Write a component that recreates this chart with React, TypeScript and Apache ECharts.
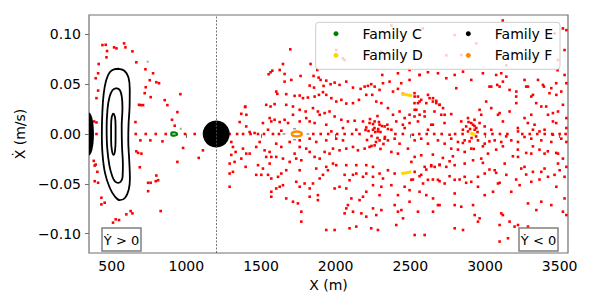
import React, { useEffect, useRef } from "react";
import * as echarts from "echarts";

// ---- axes ----
const xTicks = [500, 1000, 1500, 2000, 2500, 3000, 3500];
const yTicks = [-0.1, -0.05, 0, 0.05, 0.1];
const xRange = [348, 3556];
const yRange = [-0.1195, 0.1195];
const separatorX = 1200;

// ---- red chaotic crossings (X m, Xdot m/s) ----
const chaosLeft: number[][] = [
  [438,.0893],[460,.0896],[516,.087],[532,.086],[583,.091],[592,.087],[639,.083],[469,.0833],[465,.077],[413,.0703],
  [409,.061],[393,.056],[409,.0436],[398,.036],[382,.0126],[398,.0116],[398,0],[665,.072],[726,.065],[777,.061],
  [755,.054],[799,.052],[817,.051],[728,.047],[721,.041],[761,.037],[855,.034],[873,.029],[960,.040],[683,.0293],
  [694,.029],[710,.029],[940,.022],[904,.0143],[922,.0083],[659,.012],[661,0],[728,0],[795,0],[862,0],[991,0],[1056,0],
  [692,-.0064],[759,-.0064],[840,-.0074],[665,-.0174],[677,-.019],[699,-.0197],[978,-.014],[1083,-.024],[940,-.028],
  [688,-.0334],[799,-.0417],[811,-.0464],[795,-.0474],[744,-.049],[761,-.049],[744,-.0574],[828,-.0774],[627,-.0774],
  [639,-.0797],[598,-.0807],[549,-.0864],[509,-.089],[380,-.027],[393,-.0307],[386,-.0317],[404,-.038],[386,-.0474],
  [409,-.049],[431,-.064],[453,-.069],[431,-.0707],[527,-.0857],[1111,-.0164]
];
const chaosUpper: number[][] = [
  [1696,.085],[1832,.0703],[1877,.0643],[1765,.0583],[1658,.0603],[1647,.0703],[1625,.0643],[1551,.060],[1564,.062],[1576,.0636],
  [1658,.0526],[1703,.0543],[1852,.0583],[1886,.0566],[1899,.0543],[1937,.0536],[1826,.0486],[1855,.0466],[1919,.0483],[1966,.050],
  [1993,.0516],[2026,.0493],[2071,.0526],[2116,.0466],[2167,.0453],[2194,.0476],[2216,.0483],[2238,.050],[2261,.0476],[2294,.0443],
  [2317,.051],[2312,.0593],[1602,.0426],[1609,.0403],[1669,.040],[1725,.0383],[1759,.0386],[1781,.036],[1814,.0366],[1859,.0376],
  [1888,.0393],[1915,.042],[1937,.0393],[1971,.036],[2004,.0326],[2038,.0343],[2071,.0306],[2116,.031],[2156,.0343],[2205,.0393],
  [2245,.0393],[2272,.0326],[2306,.031],[1535,.0293],[1564,.0276],[1591,.030],[1669,.0293],[1714,.0276],[1759,.0243],[1799,.0226],
  [1848,.026],[1881,.0226],[1926,.021],[1959,.0226],[1993,.0176],[2038,.0143],[2082,.0126],[2127,.0133],[2183,.0126],[2227,.011],
  [2261,.0126],[2294,.0093],[2328,.0076],[1395,.0276],[1368,.0203],[1357,.012],[1401,.0076],[1513,.011],[1558,.016],[1569,.0126],
  [1591,.0143],[1625,.012],[1658,.0143],[1681,.011],[1714,.0193],[1759,.0126],[1803,.016],[1826,.0126],[1859,.011],[1893,.0193],
  [1937,.0093],[1971,.0026],[2049,.006],[2138,.0043],[2205,.0066],[2250,.0043],[2283,.0026],[1424,.002],[1457,.001],[1547,.0043],
  [1636,.0033],[1402,.0193],[1393,.027],
  [2417,.061],[2495,.0643],[2562,.0593],[2618,.062],[2685,.061],[2741,.056],[2797,.0593],[2808,.046],[2853,.0626],[2908,.0543],
  [2986,.061],[3042,.0476],[3082,.0493],[3120,.0526],[3109,.061],[3143,.0576],[3210,.0426],[3265,.0543],[3288,.0476],[3310,.0376],
  [3355,.0543],[3395,.0476],[3444,.046],[3478,.0393],[3511,.0426],[3545,.051],[3533,.0593],[2361,.0526],[2384,.0426],[2417,.0453],
  [2451,.0403],[2529,.0376],[2551,.031],[2573,.0343],[2618,.0393],[2652,.036],[2674,.0333],[2696,.0293],[2719,.026],[2730,.0193],
  [2774,.020],[2350,.026],[2384,.0193],[2428,.0226],[2406,.0126],[2462,.016],[2495,.0193],[2529,.0243],[2551,.0126],[2596,.0176],
  [2640,.0093],[2462,.006],[2373,.0043],[2346,.0093],[2841,.0126],[2886,.016],[2920,.0093],[2942,.006],[2964,.011],[2998,.0076],
  [3042,.0043],[3087,.0193],[3120,.0126],[3165,.0226],[3210,.031],[3265,.016],[3310,.0193],[3332,.0093],[3377,.0276],[3422,.0193],
  [3455,.0126],[3489,.0226],[3522,.0293],[3545,.016],[3545,.006],[3399,.0043],[3221,.0026],[2886,.0026],[2931,.0043],[3545,.1043],
  [3522,.106],[3533,.0843],[3486,.064],
  [2797,.0993],[2841,.0793],[3288,.076],[3466,.101],[3489,.0743],[2004,.0843],[2049,.076],[2060,.0743],[2306,.0826],
  [2373,.109],[2583,.106],[2741,.079],[3119,.114],[3410,.103],[3143,.069],[2942,.091],
  [2439,.051],[2495,.0543],[2562,.0593],[2528,.041],[2551,.0376],[2562,.0326],[2528,.031],[2540,.0243],[2562,.0193],[2528,.0176],
  [2595,.0226],[2607,.031],[2629,.036],[2651,.0326],[2674,.031],[2696,.0293],[2662,.0226],[2707,.0193],[2729,.011],[2651,.0093],
  [2618,.0043],[2450,.0093],[2495,.011],[2852,.0043],[2874,.0076],[2908,.011],[2930,.0143],[2964,.0243],[2975,.0193],[3008,.0326],
  [3042,.026],[3098,.021],[3220,.006],[3287,.011],[3321,.0043],[3365,.0026],[3165,.0443],[3209,.0376],[3276,.0476],[3321,.0393],
  [3388,.0493],[3432,.041],[3477,.051],[3343,.031],[3410,.0276],[3455,.021],[3477,.011],[3098,.0476],[3075,.0593],[3030,.0476]
];
const chaosLower: number[][] = [
  [1301,-.008],[1312,-.013],[1301,-.021],[1330,-.018],[1290,-.0297],[1323,-.028],[1290,-.0397],[1312,-.038],[1290,-.053],[1379,-.0147],
  [1401,-.0197],[1368,-.0247],[1397,-.033],[1424,-.0197],[1468,-.013],[1491,-.008],[1524,-.0164],[1558,-.018],[1535,-.023],[1569,-.023],
  [1602,-.0097],[1636,-.013],[1602,-.023],[1647,-.0247],[1480,-.0313],[1513,-.0347],[1502,-.041],[1468,-.041],[1547,-.041],[1569,-.0447],
  [1614,-.043],[1636,-.0397],[1669,-.0364],[1692,-.028],[1736,-.0247],[1770,-.0264],[1725,-.0197],[1759,-.013],[1803,-.0147],[1826,-.018],
  [1859,-.023],[1893,-.0247],[1926,-.018],[1959,-.0197],[1982,-.0147],[2026,-.0164],[2071,-.0147],[2116,-.013],[2149,-.0164],[2194,-.0147],
  [2227,-.013],[2261,-.0114],[2294,-.0064],[2328,-.0047],[2049,-.0064],[2004,-.0047],[1937,-.0064],[1870,-.008],[1826,-.0047],[1759,-.0064],
  [1692,-.008],[1937,-.033],[1948,-.0364],[1915,-.041],[1893,-.0447],[1848,-.0497],[1826,-.0547],[1881,-.0614],[1881,-.0664],[1736,-.048],
  [1759,-.053],[1792,-.0497],[1647,-.0514],[1602,-.0547],[1569,-.058],[1569,-.063],[1669,-.0647],[1714,-.068],[1747,-.0697],[1770,-.078],
  [1770,-.088],[1826,-.063],[1993,-.0547],[2026,-.053],[2071,-.0547],[2093,-.0464],[2060,-.041],[2116,-.041],[2138,-.0397],[2183,-.043],
  [2205,-.0397],[2250,-.043],[2294,-.0397],[2317,-.0447],[2306,-.053],[2250,-.0514],[2205,-.058],[2183,-.063],[2160,-.0664],[2105,-.0647],
  [2082,-.0714],[2071,-.0747],[2060,-.0797],[2116,-.078],[2172,-.0797],[2205,-.083],[2138,-.093],[2093,-.0947],[1937,-.0964],[1993,-.0964],
  [2238,-.0947],[2283,-.0964],[2272,-.0814],[2306,-.0764],[2250,-.0747],[2294,-.0614],[1982,-.0297],[2004,-.0313],[2071,-.0313],[2138,-.0313],
  [2205,-.0313],[2250,-.033],[1870,-.0347],[1759,-.0364],[1558,-.0297],[1625,-.053],
  [2350,-.0064],[2395,-.0047],[2428,-.0097],[2373,-.018],[2417,-.0197],[2484,-.0147],[2529,-.0064],[2573,-.0047],[2618,-.0097],[2685,-.0064],
  [2730,-.0097],[2774,-.0047],[2819,-.008],[2864,-.0064],[2908,-.0147],[2953,-.0064],[2998,-.0097],[3065,-.0064],[3109,-.008],[3176,-.0064],
  [3221,-.008],[3265,-.003],[3310,-.0047],[3377,-.0064],[3444,-.008],[3511,-.0047],[3545,-.008],[2529,-.023],[2573,-.0214],[2507,-.028],
  [2596,-.033],[2640,-.0313],[2663,-.033],[2696,-.0313],[2741,-.033],[2797,-.0313],[2864,-.0297],[2920,-.0264],[2975,-.0247],[3020,-.0197],
  [2864,-.018],[2774,-.0147],[2350,-.0364],[2395,-.0397],[2529,-.038],[2573,-.041],[2618,-.046],[2585,-.0497],[2562,-.058],[2607,-.0614],
  [2652,-.0647],[2685,-.0714],[2652,-.078],[2696,-.0714],[2797,-.0597],[2797,-.0714],[2841,-.073],[2920,-.0714],[2931,-.0814],[2964,-.0847],
  [2953,-.088],[2853,-.0964],[2797,-.0947],[2596,-.1014],[2529,-.1014],[2373,-.0514],[2417,-.0614],[2395,-.0714],[2440,-.0764],[2417,-.078],
  [2451,-.0847],[2406,-.0914],[2495,-.068],[2551,-.078],[2908,-.048],[2953,-.053],[2998,-.0614],[3054,-.058],[3087,-.0497],[3109,-.0797],
  [3120,-.0814],[3098,-.0914],[3165,-.088],[3154,-.1047],[3098,-.108],[3143,-.041],[3176,-.058],[3232,-.0514],[3243,-.0347],[3265,-.033],
  [3310,-.048],[3321,-.038],[3377,-.038],[3399,-.0347],[3422,-.043],[3466,-.041],[3500,-.0364],[3533,-.043],[3545,-.033],[3489,-.0297],
  [3522,-.0247],[3478,-.053],[3533,-.0647],[3545,-.0814],[3522,-.078],[3444,-.0714],[3377,-.068],[3288,-.0697],[3344,-.0764],[3288,-.093],
  [3221,-.0914],[3198,-.093],[3489,-.0197],[3399,-.0197],[3310,-.0197],[3221,-.023],[3132,-.0297],[3065,-.0364],[2998,-.0397],[2953,-.043],
  [2864,-.043],[2797,-.046],[2730,-.0497],[2685,-.046],[2507,-.046],[2462,-.053],[2495,-.0564],
  [2763,-.0007],[2517,-.0007],[3142,-.0024],[3455,-.0007],[2941,-.0024],[2897,-.0074],[2852,-.009],[2819,-.0157],[2785,-.0224],[2763,-.0274],
  [2718,-.024],[2696,-.0307],[2651,-.0207],[2640,-.0324],[2607,-.0357],[2562,-.0424],[2517,-.0457],[2986,-.0124],[3030,-.0074],[3075,-.0157],
  [3120,-.0124],[3187,-.0224],[3220,-.0157],[3276,-.019],[3321,-.0124],[3365,-.0157],[3421,-.0174],[3477,-.019],[2986,-.029],[3030,-.0357],
  [3075,-.039],[3209,-.0457],[3276,-.0407],[3365,-.0457],[3098,-.049],[2874,-.049],[2830,-.0457],[2763,-.0424],[2696,-.0474],[2651,-.0457]
];
const chaosAxis: number[][] = [
  [1290,0],[1340,0],[1380,0],[1430,0],[1480,0],[1520,0],[1580,0],[1620,0],[1850,0],[1900,0],[1950,0],[2010,0],[2060,0],[2110,0],
  [2160,0],[2400,0],[2450,0],[2560,0],[2610,0],[2660,0],[2710,0],[2800,0],[2850,0],[3000,0],[3050,0],[3100,0],[3150,0],[3250,0],
  [3300,0],[3350,0],[3400,0],[3450,0],[3500,0],[3540,0],
  [2220,.003],[2240,-.002],[2260,.006],[2280,-.004],[2300,.002],[2310,.008],[2330,-.003],[2250,.01],[2270,-.008],[2290,.012],
  [2320,-.01],[2200,.004],[2210,-.006],[2350,.005],[2230,.015],[2280,.018],[2240,-.012],[2300,-.015],[2265,.002],[2285,.005],
  [2900,.005],[2910,-.004],[2930,.008],[2890,.012],[2950,.002],[2925,-.015]
];

// ---- Family E (black) ----
const contourOuter: number[][] = [
  [549,.0655],[585,.0635],[612,.057],[621,.045],[620,.028],[613,.010],[611,-.006],[618,-.028],[622,-.045],[614,-.056],[590,-.064],
  [554,-.0665],[520,-.0625],[487,-.054],[455,-.039],[438,-.019],[434,0],[437,.020],[446,.040],[463,.054],[487,.062],[515,.065],[549,.0655]
];
const contourMiddle: number[][] = [
  [532,.046],[555,.044],[568,.037],[572,.026],[567,.008],[569,-.012],[575,-.031],[573,-.043],[560,-.048],[543,-.049],[522,-.0475],
  [505,-.043],[485,-.032],[470,-.014],[466,.006],[472,.025],[485,.037],[505,.044],[532,.046]
];
const contourInner: number[][] = [
  [511,.021],[522,.017],[526,.008],[526,-.006],[522,-.017],[513,-.021],[502,-.017],[496,-.006],[496,.008],[500,.017],[511,.021]
];
const familyEDisk: number[][] = [[1200, 0]];
const familyEEdge: number[][] = [[348, 0, 33, 0.0215]]; // centre x, centre y, half-width, half-height

// ---- Family C (green) ----
const familyCLoop: number[][] = [[897,0],[906,.0017],[925,.0015],[938,0],[925,-.0015],[906,-.0017],[897,0]];
const familyCDots: number[][] = [[741,.0726],[962,.0053]];

// ---- Family D (gold) ----
const familyDUpper: number[][] = [[2440,.0403],[2476,.0395],[2513,.0383]];
const familyDLower: number[][] = [[2440,-.0397],[2476,-.0389],[2507,-.038]];
const familyDMid: number[][] = [[2902,.001],[2937,-.001]];

// ---- Family F (orange) ----
const familyFLoop: number[][] = [[1705,0],[1713,.0017],[1739,.0024],[1765,.0017],[1773,0],[1765,-.0017],[1739,-.0024],[1713,-.0017],[1705,0]];
const greyMarks: number[][] = [[1654,0],[1814,0],[1725,.0053],[1725,-.0057]];

const FONT = "DejaVu Sans";
const GREEN = "#008000";
const GOLD = "#FFD700";
const ORANGE = "#FF8C00";

function fmtY(v: number) {
  if (Math.abs(v) < 1e-9) return "0.00";
  return (v < 0 ? "\u2212" : "") + Math.abs(v).toFixed(2);
}

export default function App() {
  const ref = useRef<HTMLDivElement>(null);
  useEffect(() => {
    if (!ref.current) return;
    const chart = echarts.init(ref.current, null, { renderer: "svg", width: 598, height: 299 });
    const lineSeries = (name: string, data: number[][], color: string, width: number, smooth: boolean | number) => ({
      type: "line", name, data, color, showSymbol: false, symbol: "none", smooth, silent: true,
      lineStyle: { color, width }, itemStyle: { color }, z: 3,
    });
    // legend-key carriers: first series of each family is a plain scatter so the key is a dot
    const keySeries = (name: string, color: string) => ({
      type: "scatter", name, data: [], color, itemStyle: { color, opacity: 1 }, symbol: "circle", silent: true,
    });
    const legendBase = {
      orient: "vertical", top: 25.7, padding: 0, itemWidth: 5, itemHeight: 5, itemGap: 5.6,
      icon: "circle", selectedMode: false, z: 6,
      textStyle: { fontSize: 14, color: "#000", fontFamily: FONT, lineHeight: 16, padding: [0, 0, 0, 19] },
    };
    const option: any = {
      animation: false,
      textStyle: { fontFamily: FONT },
      grid: { left: 89, top: 15, width: 479, height: 238, show: true, borderColor: "#707070", borderWidth: 1.2, backgroundColor: "transparent" },
      xAxis: {
        type: "value", min: xRange[0], max: xRange[1],
        axisLine: { show: false },
        axisTick: { show: true, length: 4, customValues: xTicks, lineStyle: { color: "#707070", width: 1 } },
        axisLabel: { customValues: xTicks, fontSize: 14, color: "#000", margin: 6, fontFamily: FONT, formatter: (v: number) => String(Math.round(v)) },
        splitLine: { show: false },
        name: "X (m)", nameLocation: "middle", nameGap: 23,
        nameTextStyle: { fontSize: 14, color: "#000", fontFamily: FONT },
      },
      yAxis: {
        type: "value", min: yRange[0], max: yRange[1],
        axisLine: { show: false },
        axisTick: { show: true, length: 4, customValues: yTicks, lineStyle: { color: "#707070", width: 1 } },
        axisLabel: { customValues: yTicks, fontSize: 14, color: "#000", margin: 8, fontFamily: FONT, formatter: fmtY },
        splitLine: { show: false },
        name: "\u1E8A (m/s)", nameLocation: "middle", nameGap: 55,
        nameTextStyle: { fontSize: 14, color: "#000", fontFamily: FONT },
      },
      legend: [
        { ...legendBase, left: 333.5, data: ["Family C", "Family D"] },
        { ...legendBase, left: 465.8, data: ["Family E", "Family F"] },
      ],
      graphic: [
        { type: "rect", z: 5, shape: { x: 315.7, y: 22.3, width: 244.3, height: 47, r: 3 }, style: { fill: "rgba(255,255,255,0.8)", stroke: "#cccccc", lineWidth: 1 }, silent: true },
        { type: "rect", z: 7, shape: { x: 102, y: 228, width: 39, height: 23 }, style: { fill: "#fff", stroke: "#808080", lineWidth: 1.5 }, silent: true },
        { type: "text", z: 8, x: 121.5, y: 240, style: { text: "\u1E8E > 0", fontSize: 13, fontFamily: FONT, fill: "#000", align: "center", verticalAlign: "middle" }, silent: true },
        { type: "rect", z: 7, shape: { x: 519, y: 228, width: 39, height: 23 }, style: { fill: "#fff", stroke: "#808080", lineWidth: 1.5 }, silent: true },
        { type: "text", z: 8, x: 538.5, y: 240, style: { text: "\u1E8E < 0", fontSize: 13, fontFamily: FONT, fill: "#000", align: "center", verticalAlign: "middle" }, silent: true },
      ],
      series: [
        keySeries("Family C", GREEN),
        keySeries("Family D", GOLD),
        keySeries("Family E", "#000"),
        keySeries("Family F", ORANGE),
        {
          type: "scatter", name: "crossings", silent: true, symbol: "rect", symbolSize: 2.6,
          itemStyle: { color: "#ff0000", opacity: 1 }, z: 2,
          data: [...chaosLeft, ...chaosUpper, ...chaosLower, ...chaosAxis],
          markLine: {
            silent: true, symbol: "none", label: { show: false },
            lineStyle: { color: "#555", type: [2, 1.5], width: 0.8 },
            data: [{ xAxis: separatorX }],
          },
        },
        { type: "scatter", name: "Family E", data: familyEDisk, symbol: "circle", symbolSize: 27, color: "#000", itemStyle: { color: "#000", opacity: 1 }, silent: true, z: 3 },
        lineSeries("Family E", contourOuter, "#000", 1.8, 0.4),
        lineSeries("Family E", contourMiddle, "#000", 1.8, 0.4),
        lineSeries("Family E", contourInner, "#000", 1.8, 0.4),
        {
          type: "custom", name: "Family E", data: familyEEdge, color: "#000", silent: true, z: 3,
          encode: { x: 0, y: 1 },
          renderItem: (params: any, api: any) => {
            const cx = api.value(0), cy = api.value(1), rx = api.value(2), ry = api.value(3);
            const pts: number[][] = [];
            for (let i = 0; i <= 30; i++) {
              const t = -Math.PI / 2 + (Math.PI * i) / 30;
              pts.push(api.coord([cx + rx * Math.cos(t), cy + ry * Math.sin(t)]));
            }
            return { type: "polygon", shape: { points: pts }, style: { fill: "#000" } };
          },
        },
        lineSeries("Family C", familyCLoop, GREEN, 2.2, 0.4),
        { type: "scatter", name: "Family C", data: familyCDots, symbol: "rect", symbolSize: 2, color: GREEN, itemStyle: { color: GREEN, opacity: 0.5 }, silent: true, z: 3 },
        lineSeries("Family D", familyDUpper, GOLD, 3, false),
        lineSeries("Family D", familyDLower, GOLD, 3, false),
        lineSeries("Family D", familyDMid, GOLD, 3, false),
        lineSeries("Family F", familyFLoop, ORANGE, 2.5, 0.5),
        { type: "scatter", name: "marks", data: greyMarks, symbol: "rect", symbolSize: [3, 1.5], itemStyle: { color: "#999", opacity: 1 }, silent: true, z: 3 },
      ],
    };
    chart.setOption(option);
    return () => chart.dispose();
  }, []);
  return <div ref={ref} style={{ position: "absolute", left: 0, top: 0, width: 598, height: 299 }} />;
}
